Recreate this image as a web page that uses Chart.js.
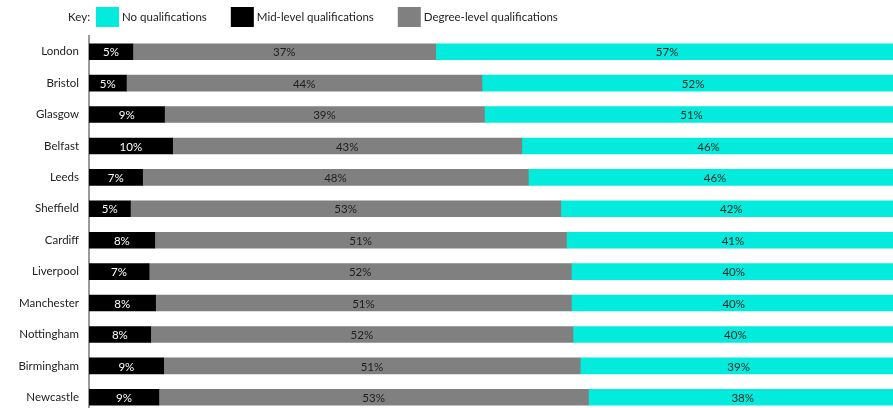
<!DOCTYPE html>
<html>
<head>
<meta charset="utf-8">
<script src="https://cdn.jsdelivr.net/npm/chart.js@4/dist/chart.umd.min.js"></script>
<style>
  html, body { margin: 0; padding: 0; background: #fff; overflow: hidden; }
  #wrap { width: 893px; height: 408px; overflow: hidden; }
</style>
</head>
<body>
<div id="wrap"><canvas id="qualChart" width="901" height="413"></canvas></div>
<script>
// cities, top to bottom
var cities = ["London", "Bristol", "Glasgow", "Belfast", "Leeds", "Sheffield",
	"Cardiff", "Liverpool", "Manchester", "Nottingham", "Birmingham", "Newcastle"];

// shares in % (labels show them rounded)
var midLevel = [5.4, 4.6, 9.3, 10.3, 6.6, 5.1, 8.1, 7.4, 8.2, 7.6, 9.2, 8.6];
var degreeLevel = [37.3, 43.8, 39.4, 43.0, 47.5, 53.0, 50.7, 52.0, 51.2, 52.0, 51.3, 52.9];
var noQuals = [57, 52, 51, 46, 46, 42, 41, 40, 40, 40, 39, 38];

// legend order differs from stacking order
var keyOrder = ["No qualifications", "Mid-level qualifications", "Degree-level qualifications"];

var FONT = "Lato";
var FONT_SIZE = 11.5;

var valueLabels = {
	id: "valueLabels",
	afterDatasetsDraw: function(chart) {
		var ctx = chart.ctx;
		ctx.save();
		ctx.font = FONT_SIZE + "px " + FONT;
		ctx.textAlign = "center";
		ctx.textBaseline = "middle";
		chart.data.datasets.forEach(function(ds, i) {
			var meta = chart.getDatasetMeta(i);
			meta.data.forEach(function(bar, j) {
				ctx.fillStyle = ds.labelColor;
				ctx.fillText(Math.round(ds.data[j]) + "%", (bar.base + bar.x) / 2, bar.y + 1);
			});
		});
		ctx.restore();
	}
};

var keyLegend = {
	id: "keyLegend",
	afterDraw: function(chart) {
		var ctx = chart.ctx;
		var y = 17;
		ctx.save();
		ctx.font = FONT_SIZE + "px " + FONT;
		ctx.textBaseline = "middle";
		ctx.fillStyle = "#222";
		ctx.textAlign = "right";
		ctx.fillText("Key:", 90, y);
		ctx.textAlign = "left";
		var x = 96;
		keyOrder.forEach(function(name) {
			var ds = chart.data.datasets.find(function(d) { return d.label === name; });
			ctx.fillStyle = ds.backgroundColor;
			ctx.fillRect(x, 7, 23, 20);
			x += 26;
			ctx.fillStyle = "#222";
			ctx.fillText(name, x, y);
			x += ctx.measureText(name).width + 24;
		});
		ctx.restore();
	}
};

var data = {
	labels: cities,
	datasets: [
		{
			label: "Mid-level qualifications",
			data: midLevel,
			backgroundColor: "#000000",
			labelColor: "#ffffff"
		},
		{
			label: "Degree-level qualifications",
			data: degreeLevel,
			backgroundColor: "#808080",
			labelColor: "#1e1e1e"
		},
		{
			label: "No qualifications",
			data: noQuals,
			backgroundColor: "#03EBDD",
			labelColor: "#1e1e1e"
		}
	]
};

var chart = new Chart(document.getElementById("qualChart"), {
	type: "bar",
	data: data,
	options: {
		indexAxis: "y",
		responsive: false,
		animation: false,
		barThickness: 16,
		borderSkipped: false,
		layout: { padding: { top: 36, left: 0, right: 0, bottom: 0 } },
		plugins: {
			legend: { display: false },
			tooltip: { enabled: false }
		},
		scales: {
			x: {
				stacked: true,
				min: 0,
				max: 100,
				display: false
			},
			y: {
				stacked: true,
				grid: { display: false, drawTicks: false },
				border: { display: true, color: "#9a9a9a", width: 2 },
				ticks: {
					padding: 10,
					color: "#222",
					font: { family: FONT, size: FONT_SIZE }
				},
				afterFit: function(scale) {
					scale.width = 89;
					// let the last row run to the bottom edge
					scale.paddingTop = 0;
					scale.paddingBottom = 0;
				}
			}
		}
	},
	plugins: [valueLabels, keyLegend]
});
</script>
</body>
</html>
